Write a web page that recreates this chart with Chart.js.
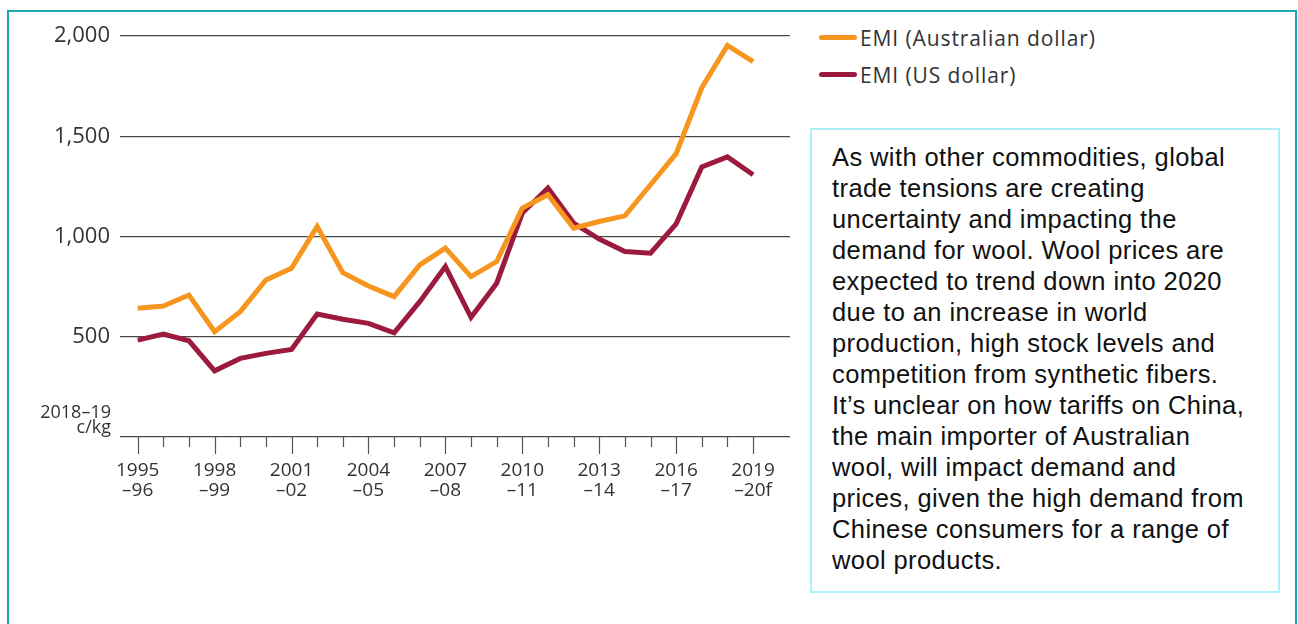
<!DOCTYPE html>
<html>
<head>
<meta charset="utf-8">
<script src="https://cdn.jsdelivr.net/npm/chart.js@4.4.1/dist/chart.umd.min.js"></script>
<style>
    html, body { margin: 0; padding: 0; background: #fff; }
    body { width: 1298px; height: 624px; position: relative; overflow: hidden; }
    .frame {
        position: absolute; left: 7px; top: 10px; width: 1290px; height: 700px;
        border: 2px solid #19a8b4; box-sizing: border-box;
    }
    .chart-wrap { position: absolute; left: 0; top: 0; width: 800px; height: 510px; }
    .legend { position: absolute; left: 819px; top: 19px; font-family: 'Open Sans', sans-serif; font-size: 21px; letter-spacing: 0.9px; color: #333; }
    .legend-item { display: flex; align-items: center; height: 37px; }
    .legend-swatch { width: 38px; height: 5px; border-radius: 3px; margin-right: 3px; }
    .note {
        position: absolute; left: 810px; top: 128px; width: 470px; height: 465px;
        border: 2px solid #aef0f8; box-sizing: border-box;
        padding: 12px 0 0 20px; white-space: nowrap;
        font-family: 'Liberation Sans', Arial, sans-serif; font-size: 25.5px; letter-spacing: 0.4px;
        line-height: 31px; color: #111;
    }
</style>
</head>
<body>
<div class="frame"></div>
<div class="chart-wrap"><canvas id="woolChart"></canvas></div>
<div class="legend" id="legend"></div>
<div class="note">As with other commodities, global<br>trade tensions are creating<br>uncertainty and impacting the<br>demand for wool. Wool prices are<br>expected to trend down into 2020<br>due to an increase in world<br>production, high stock levels and<br>competition from synthetic fibers.<br>It’s unclear on how tariffs on China,<br>the main importer of Australian<br>wool, will impact demand and<br>prices, given the high demand from<br>Chinese consumers for a range of<br>wool products.</div>

<script>
const seasons = ['1995–96', '1996–97', '1997–98', '1998–99', '1999–00', '2000–01', '2001–02', '2002–03',
    '2003–04', '2004–05', '2005–06', '2006–07', '2007–08', '2008–09', '2009–10', '2010–11', '2011–12',
    '2012–13', '2013–14', '2014–15', '2015–16', '2016–17', '2017–18', '2018–19', '2019–20f'];

const emiAud = [642, 653, 708, 525, 625, 783, 842, 1050, 820, 753, 700, 858, 942, 800, 875,
    1142, 1208, 1042, 1075, 1103, 1258, 1413, 1742, 1953, 1872];

const emiUsd = [483, 513, 480, 330, 392, 417, 437, 613, 587, 567, 520, 675, 850, 597, 767,
    1117, 1242, 1067, 987, 925, 917, 1063, 1347, 1397, 1308];

const yTicks = [0, 500, 1000, 1500, 2000];
const unitLabel = ['2018–19', 'c/kg'];

const seriesNames = ['EMI (Australian dollar)', 'EMI (US dollar)'];
const seriesColors = ['#f7961f', '#9c1a3e'];

const toPoints = (arr) => arr.map((v, i) => ({ x: i, y: v }));

// tick marks under the axis + unit label at zero
const axisExtras = {
    id: 'axisExtras',
    afterDraw(chart) {
        const ctx = chart.ctx;
        const xs = chart.scales.x;
        const ys = chart.scales.y;
        const y0 = ys.getPixelForValue(0);
        ctx.save();
        ctx.strokeStyle = '#555';
        ctx.lineWidth = 1.2;
        seasons.forEach((s, i) => {
            const px = Math.round(xs.getPixelForValue(i)) + 0.5;
            ctx.beginPath();
            ctx.moveTo(px, y0);
            ctx.lineTo(px, y0 + (i % 3 === 0 ? 17 : 10));
            ctx.stroke();
        });
        ctx.fillStyle = '#333';
        ctx.font = '18px "Open Sans", sans-serif';
        ctx.textAlign = 'right';
        ctx.textBaseline = 'alphabetic';
        ctx.fillText(unitLabel[0], 111, y0 - 19);
        ctx.fillText(unitLabel[1], 111, y0 - 4);
        ctx.restore();
    }
};

function initChart() {
    const ctx = document.getElementById('woolChart').getContext('2d');
    const config = {
        type: 'line',
        data: {
            datasets: [
                {
                    label: seriesNames[0],
                    data: toPoints(emiAud),
                    borderColor: seriesColors[0],
                    borderWidth: 5,
                    pointRadius: 0,
                    tension: 0
                },
                {
                    label: seriesNames[1],
                    data: toPoints(emiUsd),
                    borderColor: seriesColors[1],
                    borderWidth: 5,
                    pointRadius: 0,
                    tension: 0
                }
            ]
        },
        options: {
            responsive: true,
            maintainAspectRatio: false,
            animation: false,
            layout: { padding: { top: 36, right: 10, left: 0, bottom: 0 } },
            scales: {
                x: {
                    type: 'linear',
                    min: -0.69,
                    max: 25.44,
                    afterBuildTicks: (scale) => {
                        scale.ticks = seasons.map((s, i) => ({ value: i }));
                    },
                    afterFit: (scale) => { scale.height = 73; },
                    grid: { display: false },
                    border: { display: false },
                    ticks: {
                        autoSkip: false,
                        maxRotation: 0,
                        padding: 15,
                        color: '#333',
                        font: { family: 'Open Sans', size: 19, lineHeight: 1.08 },
                        callback: (value) => {
                            if (value % 3 !== 0) return '';
                            const parts = seasons[value].split('–');
                            return [parts[0], '–' + parts[1]];
                        }
                    }
                },
                y: {
                    min: 0,
                    max: 2000,
                    afterBuildTicks: (scale) => {
                        scale.ticks = yTicks.map(v => ({ value: v }));
                    },
                    afterFit: (scale) => { scale.width = 120; },
                    grid: { color: '#4a4a4a', lineWidth: 1.3, drawTicks: false },
                    border: { display: false },
                    ticks: {
                        padding: 10,
                        color: '#333',
                        font: { family: 'Open Sans', size: 22 },
                        callback: (value) => value === 0 ? '' : value.toLocaleString('en-US')
                    }
                }
            },
            plugins: {
                legend: { display: false },
                tooltip: { enabled: false }
            }
        },
        plugins: [axisExtras]
    };
    new Chart(ctx, config);

    const legend = document.getElementById('legend');
    seriesNames.forEach((name, i) => {
        const item = document.createElement('div');
        item.className = 'legend-item';
        item.innerHTML = '<span class="legend-swatch" style="background:' + seriesColors[i] + '"></span>' + name;
        legend.appendChild(item);
    });
}

document.addEventListener('DOMContentLoaded', initChart);
</script>
</body>
</html>
